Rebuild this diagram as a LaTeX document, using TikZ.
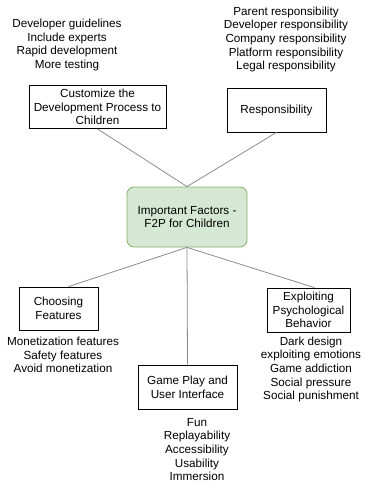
\documentclass[tikz,border=0pt]{standalone}
\usepackage{fontspec}
\setmainfont{Liberation Sans}
\definecolor{hubgreen}{HTML}{D5E8D4}
\definecolor{hubedge}{HTML}{82B366}
\definecolor{linkgrey}{HTML}{8C8C8C}
\usetikzlibrary{positioning}

\begin{document}
\begin{tikzpicture}[x=1pt, y=-1pt,
      txt/.style={font=\fontsize{11.7}{13.7}\selectfont, align=center},
      box/.style={txt, draw=black, line width=0.8pt, fill=white,
                   inner sep=1pt},
      hub/.style={txt, draw=hubedge, fill=hubgreen, rounded corners=7pt,
                   line width=0.8pt, minimum width=120pt, minimum height=60pt},
      list/.style={txt, inner sep=0pt},
      link/.style={linkgrey, line width=0.8pt}
    ]
      \useasboundingbox (0,0) rectangle (366,485);

      \node[hub] (hub) at (187,217) {Important Factors -\\F2P for Children};

      \node[box, minimum width=137pt, minimum height=43pt] (dev) at (97.5,107)
        {Customize the\\Development Process to\\Children};
      \node[box, minimum width=99pt, minimum height=44pt] (resp) at (276.5,110)
        {Responsibility};
      \node[box, minimum width=79pt, minimum height=43pt] (feat) at (58.5,308.5)
        {Choosing\\Features};
      \node[box, minimum width=99pt, minimum height=44pt] (play) at (187.5,387)
        {Game Play and\\User Interface};
      \node[box, minimum width=83pt, minimum height=44pt] (psy) at (308.5,310)
        {Exploiting\\Psychological\\Behavior};

      % lists of factors
      \node[list] (dev_list) at (67,45) {
        Developer guidelines\\
        Include experts\\
        Rapid development\\
        More testing
      };
      \node[list] (resp_list) at (286,39.5) {
        Parent responsibility\\
        Developer responsibility\\
        Company responsibility\\
        Platform responsibility\\
        Legal responsibility
      };
      \node[list] (feat_list) at (63,355) {
        Monetization features\\
        Safety features\\
        Avoid monetization
      };
      \node[list] (psy_list) at (311,369.5) {
        Dark design\\
        exploiting emotions\\
        Game addiction\\
        Social pressure\\
        Social punishment
      };
      \node[list] (play_list) at (197,449.5) {
        Fun\\
        Replayability\\
        Accessibility\\
        Usability\\
        Immersion
      };

      \draw[link] (dev.south) -- (hub.north);
      \draw[link] (resp.south) -- (hub.north);
      \draw[link] (hub.south) -- ([xshift=10pt]feat.north);
      \draw[link] (hub.south) -- (play.north);
      \draw[link] (hub.south) -- ([xshift=6pt]psy.north);
    \end{tikzpicture}
\end{document}
